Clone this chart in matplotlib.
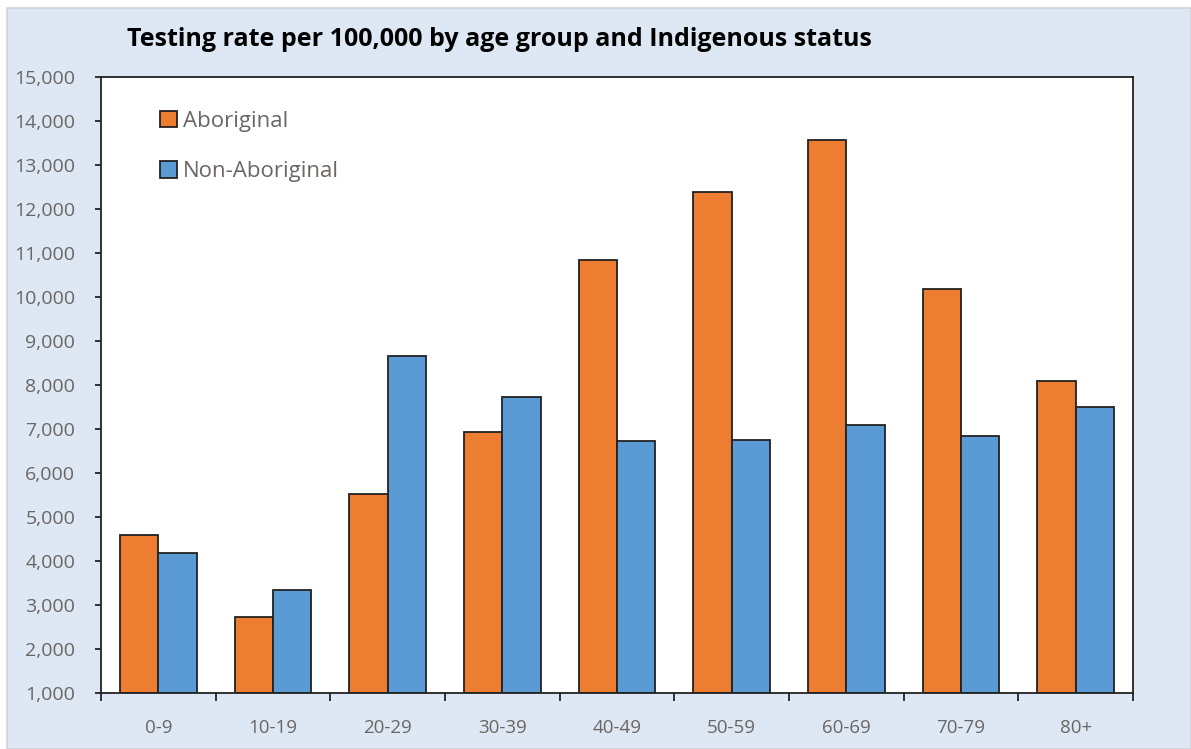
import matplotlib
matplotlib.use("Agg")
import matplotlib.pyplot as plt
from matplotlib.patches import Rectangle, Patch
import numpy as np

age_groups = ["0-9", "10-19", "20-29", "30-39", "40-49", "50-59", "60-69", "70-79", "80+"]
aboriginal = [4580, 2730, 5520, 6940, 10830, 12390, 13560, 10190, 8090]
non_aboriginal = [4180, 3350, 8670, 7730, 6730, 6750, 7080, 6850, 7510]
series_names = ["Aboriginal", "Non-Aboriginal"]
y_ticks = list(range(1000, 15001, 1000))
title = "Testing rate per 100,000 by age group and Indigenous status"

plt.rcParams["font.family"] = ["Open Sans", "DejaVu Sans"]

W, H = 1191, 749
fig = plt.figure(figsize=(W / 100, H / 100), dpi=100, facecolor="white")
fig.patches.append(Rectangle((7 / W, 0), 1 - 7 / W, 1 - 8 / H, transform=fig.transFigure,
                             facecolor="#dde8f4", edgecolor="#cfd3d8", linewidth=1.2, zorder=-5))

ax = fig.add_axes([101 / W, 1 - 693 / H, (1133 - 101) / W, (693 - 77) / H])
ax.set_zorder(2)
ax.set_facecolor("white")

x = np.arange(len(age_groups))
bw = 0.333
orange = "#ED7D31"
blue = "#5B9BD5"
ax.bar(x - bw / 2, np.array(aboriginal) - 1000, bw, bottom=1000, color=orange,
       edgecolor="#222222", linewidth=1.3, zorder=2)
ax.bar(x + bw / 2, np.array(non_aboriginal) - 1000, bw, bottom=1000, color=blue,
       edgecolor="#222222", linewidth=1.3, zorder=2)

ax.set_xlim(-0.5, len(age_groups) - 0.5)
ax.set_ylim(1000, 15000)
ax.set_yticks(y_ticks)
ax.set_yticklabels([f"{v:,}" for v in y_ticks])
ax.set_xticks(x)
ax.set_xticklabels(age_groups)
ax.set_xticks(np.arange(-0.5, len(age_groups)), minor=True)

label_color = "#6b6664"
ax.tick_params(axis="y", direction="out", length=4.5, width=1.3, color="#222222",
               labelsize=14, labelcolor=label_color, pad=14)
ax.tick_params(axis="x", which="major", length=0, labelsize=13.5, labelcolor=label_color, pad=18.5)
ax.tick_params(axis="x", which="minor", direction="out", length=6, width=1.3, color="#222222")
for s in ax.spines.values():
    s.set_color("#222222")
    s.set_linewidth(1.3)

handles = [Patch(facecolor=orange, edgecolor="#222222", linewidth=1.3),
           Patch(facecolor=blue, edgecolor="#222222", linewidth=1.3)]
leg = ax.legend(handles, series_names, loc="upper left", bbox_to_anchor=(0.038, 0.978),
                frameon=False, fontsize=16, handlelength=0.77, handleheight=0.77,
                handletextpad=0.27, labelspacing=1.34, labelcolor=label_color)

fig.text(127 / W, 1 - 40 / H, title, ha="left", va="center", fontsize=18,
         fontweight="bold", color="black")

fig.savefig("out.png", dpi=100, facecolor="white")
